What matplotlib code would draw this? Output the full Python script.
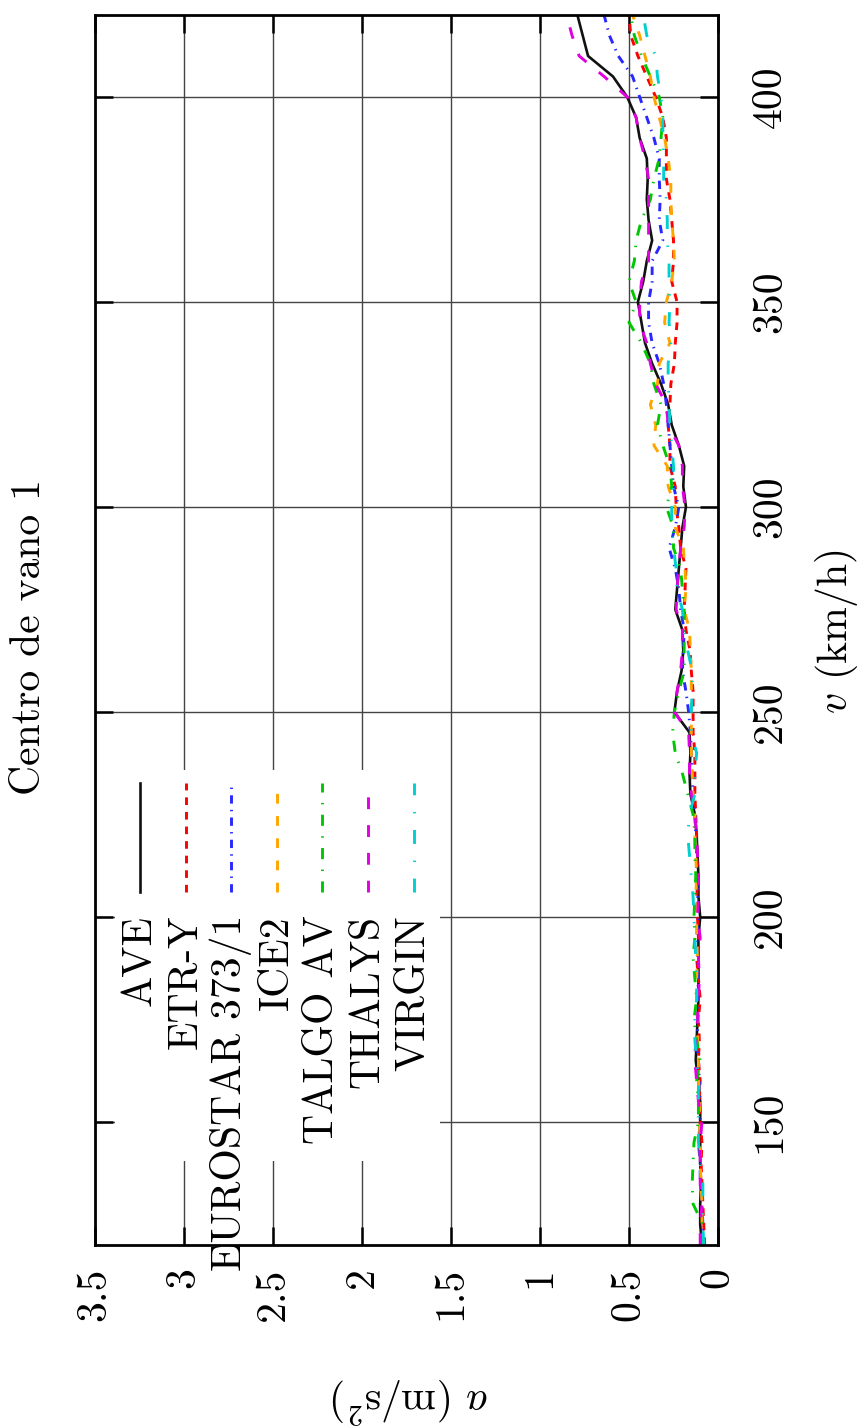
import numpy as np
import matplotlib
matplotlib.use("Agg")
from matplotlib import pyplot as plt
from matplotlib.patches import Rectangle

plt.rcParams['font.family'] = 'cmr10'
plt.rcParams['mathtext.fontset'] = 'cm'
plt.rcParams['axes.formatter.use_mathtext'] = True
plt.rcParams['lines.scale_dashes'] = False

# velocidades (km/h)
v = np.arange(120, 421, 5)

ave = [0.09, 0.10, 0.10, 0.095, 0.10, 0.10, 0.10, 0.10, 0.11, 0.125,
       0.12, 0.115, 0.11, 0.11, 0.11, 0.11, 0.10, 0.11, 0.11, 0.115,
       0.12, 0.13, 0.155, 0.16, 0.155, 0.16, 0.245, 0.23, 0.205, 0.195,
       0.20, 0.24, 0.23, 0.22, 0.21, 0.20, 0.18, 0.195, 0.19, 0.22,
       0.26, 0.28, 0.32, 0.37, 0.41, 0.43, 0.45, 0.42, 0.40, 0.37,
       0.39, 0.40, 0.395, 0.40, 0.44, 0.46, 0.51, 0.59, 0.73, 0.76, 0.79]
etr_y = [0.075, 0.08, 0.085, 0.09, 0.095, 0.09, 0.10, 0.105, 0.10, 0.11,
         0.105, 0.11, 0.10, 0.11, 0.12, 0.11, 0.115, 0.12, 0.11, 0.12,
         0.12, 0.125, 0.13, 0.13, 0.13, 0.14, 0.14, 0.14, 0.15, 0.157,
         0.18, 0.19, 0.185, 0.18, 0.21, 0.22, 0.235, 0.24, 0.27, 0.27,
         0.28, 0.27, 0.265, 0.245, 0.24, 0.23, 0.23, 0.26, 0.25, 0.25,
         0.26, 0.27, 0.29, 0.29, 0.29, 0.31, 0.35, 0.40, 0.45, 0.49, 0.50]
eurostar = [0.09, 0.085, 0.09, 0.10, 0.10, 0.11, 0.10, 0.10, 0.105, 0.11,
            0.12, 0.11, 0.115, 0.11, 0.115, 0.12, 0.11, 0.115, 0.12, 0.12,
            0.125, 0.13, 0.14, 0.145, 0.15, 0.155, 0.165, 0.18, 0.20, 0.195,
            0.19, 0.21, 0.22, 0.24, 0.275, 0.24, 0.22, 0.25, 0.26, 0.27,
            0.28, 0.29, 0.305, 0.33, 0.37, 0.39, 0.39, 0.37, 0.37, 0.31,
            0.33, 0.325, 0.33, 0.33, 0.36, 0.40, 0.44, 0.48, 0.56, 0.61, 0.64]
ice2 = [0.085, 0.09, 0.09, 0.095, 0.10, 0.10, 0.105, 0.10, 0.11, 0.11,
        0.115, 0.11, 0.12, 0.12, 0.115, 0.12, 0.12, 0.125, 0.12, 0.125,
        0.13, 0.13, 0.14, 0.145, 0.15, 0.15, 0.15, 0.15, 0.15, 0.155,
        0.16, 0.19, 0.18, 0.185, 0.195, 0.24, 0.24, 0.28, 0.285, 0.36,
        0.35, 0.38, 0.34, 0.33, 0.27, 0.30, 0.29, 0.26, 0.245, 0.25,
        0.26, 0.265, 0.265, 0.28, 0.30, 0.33, 0.36, 0.38, 0.41, 0.44, 0.48]
talgo = [0.09, 0.085, 0.14, 0.145, 0.14, 0.135, 0.11, 0.11, 0.12, 0.10,
         0.12, 0.135, 0.12, 0.13, 0.14, 0.13, 0.135, 0.13, 0.125, 0.13,
         0.13, 0.14, 0.17, 0.20, 0.24, 0.255, 0.245, 0.22, 0.19, 0.19,
         0.19, 0.19, 0.20, 0.21, 0.25, 0.25, 0.29, 0.26, 0.27, 0.31,
         0.34, 0.32, 0.36, 0.38, 0.43, 0.50, 0.46, 0.50, 0.47, 0.46,
         0.43, 0.38, 0.36, 0.33, 0.32, 0.31, 0.33, 0.38, 0.43, 0.47, 0.49]
thalys = [0.10, 0.10, 0.09, 0.10, 0.10, 0.10, 0.09, 0.11, 0.12, 0.13,
          0.125, 0.115, 0.11, 0.105, 0.11, 0.10, 0.115, 0.11, 0.11, 0.115,
          0.12, 0.13, 0.15, 0.16, 0.16, 0.165, 0.245, 0.23, 0.21, 0.20,
          0.20, 0.235, 0.23, 0.22, 0.21, 0.19, 0.185, 0.20, 0.20, 0.22,
          0.28, 0.29, 0.35, 0.38, 0.40, 0.44, 0.44, 0.43, 0.39, 0.39,
          0.39, 0.39, 0.39, 0.41, 0.44, 0.46, 0.51, 0.64, 0.78, 0.82, 0.85]
virgin = [0.08, 0.085, 0.085, 0.085, 0.10, 0.11, 0.11, 0.11, 0.11, 0.12,
          0.13, 0.13, 0.12, 0.12, 0.125, 0.13, 0.135, 0.14, 0.15, 0.16,
          0.17, 0.16, 0.13, 0.13, 0.12, 0.15, 0.15, 0.145, 0.145, 0.17,
          0.19, 0.20, 0.23, 0.235, 0.25, 0.26, 0.26, 0.25, 0.25, 0.26,
          0.27, 0.275, 0.28, 0.28, 0.265, 0.275, 0.27, 0.275, 0.275, 0.285,
          0.285, 0.29, 0.305, 0.305, 0.31, 0.31, 0.32, 0.34, 0.35, 0.40, 0.42]

names = ['AVE', 'ETR-Y', 'EUROSTAR 373/1', 'ICE2', 'TALGO AV', 'THALYS', 'VIRGIN']
series = [ave, etr_y, eurostar, ice2, talgo, thalys, virgin]

a_ticks = [0, 0.5, 1, 1.5, 2, 2.5, 3, 3.5]
a_ticklabels = ['0', '0.5', '1', '1.5', '2', '2.5', '3', '3.5']
v_ticks = [150, 200, 250, 300, 350, 400]
v_ticklabels = ['150', '200', '250', '300', '350', '400']

# estilos (color, dashes en pt, grosor)
estilos = [
    ('#111111', None, 1.9),
    ('#ff0000', (5.5, 5.0), 2.1),
    ('#2828ff', (6.0, 4.5, 1.0, 4.5), 2.1),
    ('#ffa500', (7.0, 9.0), 2.1),
    ('#00c800', (8.0, 7.5, 1.0, 7.5), 2.1),
    ('#e000e0', (8.5, 11.5), 2.1),
    ('#00d0d0', (10.0, 12.0, 1.0, 12.0), 2.1),
]

fig = plt.figure(figsize=(8.57, 14.27), dpi=100)
ax = fig.add_axes([95/857, 182/1427, 623/857, 1230/1427])

for ys, (col, dsh, lw) in zip(series, estilos):
    ln, = ax.plot(ys, v, color=col, lw=lw, zorder=2)
    if dsh is not None:
        ln.set_dashes(dsh)
        ln.set_dash_capstyle('butt')

ax.set_xlim(3.5, 0)
ax.set_ylim(120, 420)
ax.set_xticks(a_ticks)
ax.set_xticklabels(a_ticklabels)
ax.set_yticks(v_ticks)
ax.set_yticklabels(v_ticklabels)
ax.set_axisbelow(True)
ax.grid(True, color='#444444', lw=1.0)
ax.tick_params(direction='in', length=13, width=1.8, top=True, bottom=True,
               left=True, right=True, labelleft=False, labelright=True,
               labelsize=30)
ax.tick_params(axis='x', labelrotation=90, pad=16)
ax.tick_params(axis='y', labelrotation=90, pad=24)
for lab in ax.get_yticklabels():
    lab.set_va('center')
for s in ax.spines.values():
    s.set_linewidth(2.0)

# leyenda manual (rotada)
ax.add_patch(Rectangle((0.032, 0.068), 0.522, 0.318, transform=ax.transAxes,
                       facecolor='white', edgecolor='none', zorder=1.5))
x0 = 0.0722
dx = 0.0732
for i, (nm, (col, dsh, lw)) in enumerate(zip(names, estilos)):
    xx = x0 + i * dx
    ln, = ax.plot([xx, xx], [0.287, 0.3756], transform=ax.transAxes,
                  color=col, lw=lw, zorder=3, clip_on=False)
    if dsh is not None:
        ln.set_dashes(dsh)
        ln.set_dash_capstyle('butt')
    ax.text(xx, 0.2683, nm, transform=ax.transAxes, rotation=90,
            ha='center', va='top', fontsize=30, zorder=3)

fig.text(29/857, 1 - 637/1427, 'Centro de vano 1', rotation=90,
         ha='center', va='center', fontsize=30)
fig.text(836/857, 1 - 632/1427, r'$v$ (km/h)', rotation=90,
         ha='center', va='center', fontsize=30)
fig.text(410/857, 1 - 1400/1427, r'$a$ (m/s$^2$)', rotation=180,
         ha='center', va='center', fontsize=30)

plt.savefig('out.png', dpi=100)
